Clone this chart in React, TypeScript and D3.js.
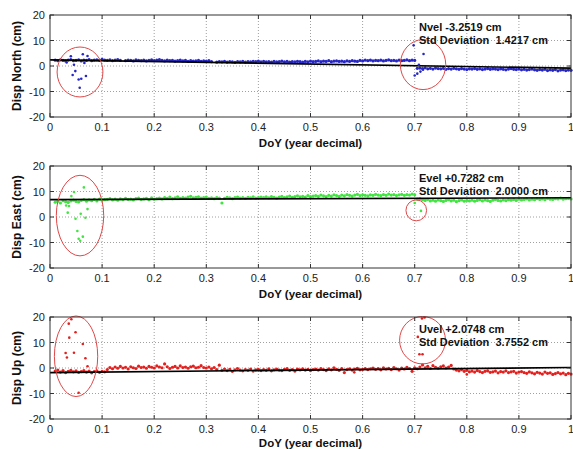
import React from "react";
import * as d3 from "d3";

const W = 573;
const H = 449;

// x grid for the dense daily series: 0.010 .. 1.000 step 0.005
const X_START = 0.01;
const X_STEP = 0.005;

const northVals: (number | null)[] = [
  2.3,2.1,2.4,2.2,2.0,2.3,2.5,2.1,2.2,2.4,2.0,2.3,2.2,2.5,2.1,2.3,2.4,2.2,2.6,2.3,
  2.2,2.4,2.1,2.3,2.5,2.2,null,2.1,2.3,2.2,2.0,2.4,2.2,2.1,2.3,2.0,2.2,2.4,2.1,2.3,
  2.5,2.2,2.0,2.3,2.1,2.2,1.9,2.1,2.3,2.0,2.2,1.8,2.1,1.9,2.0,2.2,1.8,2.0,1.9,2.1,
  1.7,null,1.5,1.7,1.6,1.8,1.5,1.7,1.6,1.4,1.7,1.6,1.8,1.5,1.7,1.6,1.8,1.7,1.9,1.6,
  1.8,1.6,1.7,1.5,1.8,1.6,1.7,1.9,1.6,1.8,1.5,1.7,1.6,1.8,1.7,1.5,1.8,1.6,1.9,1.7,
  1.8,2.0,1.7,1.9,1.8,2.1,1.7,1.9,2.0,1.8,1.9,1.7,2.0,1.8,2.1,1.9,1.8,2.2,2.0,2.3,
  2.1,2.3,2.0,2.2,2.1,2.3,2.0,2.2,2.4,2.1,2.2,2.0,2.3,2.1,2.2,2.4,2.1,2.3,2.2,-0.9,
  -0.8,-1.0,-0.7,-1.1,-0.9,-1.2,-0.8,-1.0,-1.1,-0.9,-1.3,-1.0,-1.2,-0.9,-1.1,-1.3,-1.0,-1.2,-1.4,-1.1,
  -1.2,-1.0,-1.3,-1.1,-1.4,-1.2,-1.0,-1.3,-1.1,-1.2,-1.4,-1.1,-1.3,-1.5,-1.2,-1.0,-1.3,-1.4,-1.2,-1.5,
  -1.3,-1.6,-1.4,-1.2,-1.5,-1.7,-1.4,-1.6,-1.3,-1.8,-1.5,-1.7,-1.4,-1.9,-1.6,-1.5,-1.8,-1.6,-1.7,
];

const eastVals: (number | null)[] = [
  5.8,6.2,5.5,6.4,6.0,5.7,6.3,6.6,6.1,5.9,6.5,6.8,6.2,6.7,6.4,6.9,6.3,7.0,6.6,6.8,
  6.9,7.2,6.7,7.0,6.6,7.1,6.8,7.3,6.9,7.0,6.7,7.2,7.4,6.9,7.1,7.3,6.8,7.5,7.0,7.2,
  7.4,7.1,7.6,7.3,7.8,7.2,7.5,7.9,7.3,7.6,7.4,7.8,8.1,7.5,7.7,7.9,7.4,7.6,7.8,7.3,
  7.5,7.2,7.6,7.4,5.5,7.3,7.7,7.5,7.2,7.6,7.8,7.4,7.6,7.3,7.7,7.5,7.9,7.4,7.6,7.8,
  7.6,7.9,7.5,8.0,7.7,7.4,7.8,8.1,7.6,7.9,8.2,7.7,8.0,8.3,7.9,8.1,7.8,8.4,8.0,8.2,
  8.4,8.1,8.6,8.3,8.0,8.5,8.2,8.7,8.4,8.1,8.6,8.3,8.8,8.5,8.2,8.6,8.9,8.4,8.7,8.5,
  8.3,8.7,8.5,8.9,8.6,8.4,8.8,8.5,9.0,8.6,8.8,8.4,8.7,8.9,8.5,8.8,8.6,9.0,8.7,7.0,
  7.2,6.8,6.5,6.9,6.3,6.6,6.2,6.7,6.4,6.1,6.5,6.8,6.3,6.6,6.0,6.4,6.7,6.2,6.5,6.3,
  6.6,6.2,6.5,6.8,6.3,6.7,6.4,6.1,6.6,6.9,6.5,6.3,6.7,6.4,6.8,6.6,6.9,6.5,7.0,6.7,
  6.9,7.1,6.7,7.0,6.8,7.2,6.9,7.1,6.8,7.3,7.0,6.9,7.2,7.1,7.4,7.0,7.2,7.3,7.1,
];

const upVals: (number | null)[] = [
  -1.2,-0.8,-1.6,-1.0,-1.8,-1.3,-0.9,-1.5,-1.1,-1.7,-1.4,-1.0,-1.6,-1.2,-1.9,-1.4,-1.1,-1.7,-1.3,-1.5,
  -0.6,0.2,-0.3,0.4,-0.1,0.6,0.0,0.3,-0.4,0.5,0.1,-0.2,0.7,0.2,0.4,-0.1,0.6,0.3,0.0,0.8,
  0.4,0.1,1.6,0.5,-0.2,0.3,0.6,0.0,0.8,0.2,0.4,-0.1,0.5,0.7,0.1,0.3,0.9,0.2,0.0,0.4,
  -0.3,0.2,-0.6,1.1,-0.9,-0.4,-1.0,-0.5,-1.3,-0.7,-0.2,-0.8,-1.1,-0.6,-0.9,-0.4,-1.2,-0.7,-0.5,-1.0,
  -0.6,-0.9,-0.3,-1.1,-0.7,-0.4,-0.8,-1.0,-0.5,-0.2,-0.9,-0.6,-1.2,-0.4,-0.7,-0.3,-0.8,-0.5,-1.0,-0.6,
  -0.4,-0.8,-0.2,-0.6,-1.0,-0.3,-0.7,0.1,-0.5,-0.9,-0.2,-1.8,-0.6,-0.3,-0.8,-0.4,-0.1,-0.7,-0.5,-0.2,
  -0.6,-0.3,0.0,-0.5,-0.2,-0.7,0.1,-0.4,-0.1,-0.6,0.2,-0.3,-0.8,0.0,-0.4,0.3,-0.2,-1.3,0.1,-0.3,
  0.4,1.2,0.1,0.6,-0.2,0.9,0.3,-0.1,0.5,0.8,0.0,0.4,1.0,-0.4,-0.8,-1.1,-0.6,-1.3,-0.9,-1.5,
  -1.2,-1.6,-1.0,-1.4,-1.8,-1.3,-1.1,-1.7,-1.5,-1.2,-1.9,-1.4,-1.6,-1.1,-1.8,-1.5,-1.3,-2.0,-1.6,-1.4,
  -1.8,-2.1,-1.5,-1.9,-2.3,-1.7,-2.0,-2.4,-1.6,-2.1,-1.9,-2.5,-2.2,-1.8,-2.3,-2.0,-2.6,-2.1,-2.4,
];

// outliers [x, y]
const northOut: [number, number][] = [
  [0.040,3.8],[0.063,4.6],[0.072,3.9],[0.032,1.4],[0.046,0.5],[0.066,1.2],
  [0.0435,-3.5],[0.0486,-2.0],[0.055,-5.3],[0.060,-5.0],[0.069,-3.9],[0.057,-8.5],
  [0.698,8.1],[0.717,4.7],[0.708,0.5],[0.700,-3.7],[0.705,-3.0],[0.711,-2.2],[0.716,-1.5],
];
const eastOut: [number, number][] = [
  [0.065,11.6],[0.046,9.8],[0.041,8.2],[0.031,4.5],[0.0365,4.3],[0.034,1.7],[0.072,3.1],
  [0.059,1.3],[0.049,-0.7],[0.068,-0.3],[0.0525,-5.5],[0.055,-8.5],[0.058,-9.3],[0.063,-7.7],
  [0.700,5.5],[0.712,2.4],
];
const upOut: [number, number][] = [
  [0.041,19.1],[0.036,17.4],[0.049,14.0],[0.037,11.9],[0.063,9.4],[0.030,5.9],[0.046,6.0],
  [0.0325,4.1],[0.068,3.8],[0.072,0.7],[0.055,-9.7],
  [0.719,19.8],[0.714,19.4],[0.706,12.2],[0.709,5.4],[0.715,5.4],[0.584,-1.7],[0.80,-2.5],
];

// ellipses [cx, cy, rx, ry] in data units
const northEll: [number, number, number, number][] = [[0.0576,-2.35,0.044,9.8],[0.716,0.55,0.0436,9.8]];
const eastEll: [number, number, number, number][] = [[0.0576,0.55,0.0455,15.8],[0.703,2.6,0.0198,4.1]];
const upEll: [number, number, number, number][] = [[0.050,4.6,0.0416,15.8],[0.715,10.9,0.044,9.3]];

// trend lines [value at x=0, value at x=1]
const northTrend = [2.4, -0.85];
const eastTrend = [6.8, 7.55];
const upTrend = [-1.8, 0.2];

const xTicks = [0,0.1,0.2,0.3,0.4,0.5,0.6,0.7,0.8,0.9,1];
const yTicks = [-20,-10,0,10,20];

const panels = [
  { ylabel: "Disp North (cm)", vals: northVals, out: northOut, ell: northEll, trend: northTrend, color: "#2626c8", l1: "Nvel -3.2519 cm", l2: "Std Deviation  1.4217 cm" },
  { ylabel: "Disp East (cm)", vals: eastVals, out: eastOut, ell: eastEll, trend: eastTrend, color: "#3ee63e", l1: "Evel +0.7282 cm", l2: "Std Deviation  2.0000 cm" },
  { ylabel: "Disp Up (cm)", vals: upVals, out: upOut, ell: upEll, trend: upTrend, color: "#e3201e", l1: "Uvel +2.0748 cm", l2: "Std Deviation  3.7552 cm" },
];

const LEFT = 50;
const RIGHT = 571;
const TOPS = [15, 166, 317];
const PH = 102;
const FONT = "'Liberation Sans', Arial, sans-serif";

function Panel({ p, top, last }: { p: typeof panels[number]; top: number; last: boolean }) {
  const x = d3.scaleLinear().domain([0, 1]).range([LEFT, RIGHT]);
  const y = d3.scaleLinear().domain([-20, 20]).range([top + PH, top]);
  const pts = p.vals
    .map((v, i) => [X_START + i * X_STEP, v] as [number, number | null])
    .filter((d) => d[1] !== null) as [number, number][];
  const line = d3.line<[number, number]>().x((d) => x(d[0])).y((d) => y(d[1]));
  return (
    <g>
      <rect x={LEFT} y={top} width={RIGHT - LEFT} height={PH} fill="#fff" />
      {xTicks.slice(1, -1).map((t) => (
        <line key={"gx" + t} x1={x(t)} x2={x(t)} y1={top} y2={top + PH} stroke="#888" strokeWidth={0.8} strokeDasharray="1,2" />
      ))}
      {yTicks.slice(1, -1).map((t) => (
        <line key={"gy" + t} x1={LEFT} x2={RIGHT} y1={y(t)} y2={y(t)} stroke="#888" strokeWidth={0.8} strokeDasharray="1,2" />
      ))}
      {pts.map((d, i) => (
        <circle key={"p" + i} cx={x(d[0])} cy={y(d[1])} r={1.6} fill={p.color} />
      ))}
      <path d={line([[0, p.trend[0]], [1, p.trend[1]]]) || ""} stroke="#000" strokeWidth={1.6} fill="none" />
      {p.out.map((d, i) => (
        <circle key={"o" + i} cx={x(d[0])} cy={y(d[1])} r={1.3} fill={p.color} />
      ))}
      {p.ell.map((e, i) => (
        <ellipse key={"e" + i} cx={x(e[0])} cy={y(e[1])} rx={x(e[2]) - x(0)} ry={y(0) - y(e[3])} fill="none" stroke="#e04848" strokeWidth={1} />
      ))}
      <rect x={LEFT} y={top} width={RIGHT - LEFT} height={PH} fill="none" stroke="#333" strokeWidth={1} />
      {xTicks.map((t) => (
        <g key={"tx" + t}>
          <line x1={x(t)} x2={x(t)} y1={top + PH} y2={top + PH - 4} stroke="#333" />
          <line x1={x(t)} x2={x(t)} y1={top} y2={top + 4} stroke="#333" />
          <text x={x(t)} y={top + PH + 14} textAnchor="middle" fontSize={11} fontFamily={FONT} fill="#222">{t === 0 || t === 1 ? String(t) : t.toFixed(1)}</text>
        </g>
      ))}
      {yTicks.map((t) => (
        <g key={"ty" + t}>
          <line x1={LEFT} x2={LEFT + 4} y1={y(t)} y2={y(t)} stroke="#333" />
          <line x1={RIGHT} x2={RIGHT - 4} y1={y(t)} y2={y(t)} stroke="#333" />
          <text x={LEFT - 5} y={y(t) + 4} textAnchor="end" fontSize={11} fontFamily={FONT} fill="#222">{t}</text>
        </g>
      ))}
      <text x={(LEFT + RIGHT) / 2} y={top + PH + (last ? 28 : 30)} textAnchor="middle" fontSize={11.5} fontWeight="bold" fontFamily={FONT} fill="#111">DoY (year decimal)</text>
      <text transform={`translate(21,${top + PH / 2}) rotate(-90)`} textAnchor="middle" fontSize={12} fontWeight="bold" fontFamily={FONT} fill="#111">{p.ylabel}</text>
      <text x={419} y={top + 15.5} fontSize={11} fontWeight="bold" fontFamily={FONT} fill="#111">{p.l1}</text>
      <text x={419} y={top + 28.5} fontSize={11} fontWeight="bold" fontFamily={FONT} fill="#111" style={{ whiteSpace: "pre" }}>{p.l2}</text>
    </g>
  );
}

export default function App() {
  return (
    <svg width={W} height={H} style={{ position: "absolute", left: 0, top: 0, background: "#fff" }}>
      <rect width={W} height={H} fill="#fff" />
      {panels.map((p, i) => (
        <Panel key={i} p={p} top={TOPS[i]} last={i === panels.length - 1} />
      ))}
    </svg>
  );
}
